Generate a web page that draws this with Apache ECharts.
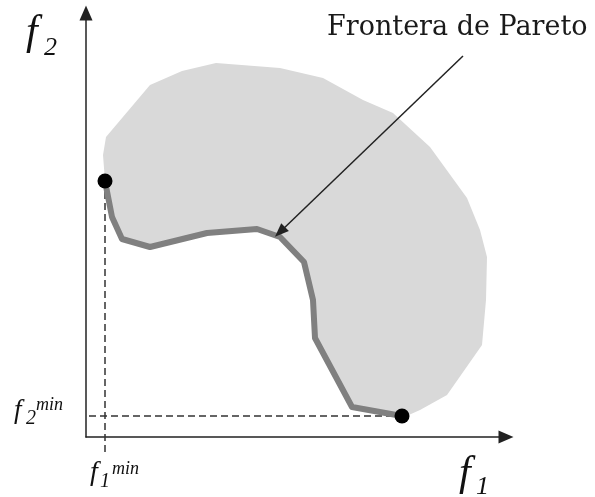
<!DOCTYPE html>
<html><head><meta charset="utf-8">
<script src="https://cdn.jsdelivr.net/npm/echarts@6/dist/echarts.min.js"></script>
<style>html,body{margin:0;padding:0;background:#fff}#c{width:595px;height:497px}</style>
</head><body><div id="c"></div>
<script>
// Pareto front (f1, f2) values, in plot units
const paretoF1 = [19, 26, 36, 64, 121, 171, 194, 218, 227, 229, 266, 316];
const paretoF2 = [256, 220, 198, 190, 204, 208, 200, 175, 137, 99, 30, 21];
// Outer boundary of the feasible region (from upper extreme around to lower extreme)
const regionF1 = [19, 17, 20, 64, 96, 130, 194, 237, 277, 307, 344, 381, 394, 401, 400, 396, 361, 334, 316];
const regionF2 = [256, 282, 300, 352, 366, 374, 369, 359, 337, 324, 290, 239, 207, 180, 137, 92, 42, 27, 19];
// Extreme points
const extremeF1 = [19, 316];
const extremeF2 = [256, 21];
// Reference lines f1min / f2min
const f1min = 19, f2min = 21;
const dashEndsF1 = [-8, 316];   // horizontal dashed from .. to
const dashEndsF2 = [256, -16];  // vertical dashed from .. to
// Annotation arrow (start, end)
const noteStart = [377, 381];
const noteEnd = [194, 205];
const noteText = 'Frontera de Pareto';

const pareto = paretoF1.map((x, i) => [x, paretoF2[i]]);
const outer = regionF1.map((x, i) => [x, regionF2[i]]);
const polygon = outer.concat(pareto.slice().reverse());

const chart = echarts.init(document.getElementById('c'), null, {renderer: 'canvas'});
const axisCommon = {
  type: 'value',
  axisLine: {show: true, onZero: false, symbol: ['none', 'triangle'], symbolSize: [13, 15],
    lineStyle: {color: '#222', width: 1.5}},
  axisTick: {show: false}, axisLabel: {show: false}, splitLine: {show: false}
};
const serifI = '"Liberation Serif", serif';
function t(text, x, y, size) {
  return {type: 'text', x: x, y: y, z: 100,
    style: {text: text, font: 'italic ' + size + 'px ' + serifI, fill: '#111', verticalAlign: 'middle'}};
}
chart.setOption({
  animation: false,
  backgroundColor: '#fff',
  grid: {left: 86, right: 89, top: 13, bottom: 60},
  xAxis: Object.assign({min: 0, max: 420}, axisCommon),
  yAxis: Object.assign({min: 0, max: 424}, axisCommon),
  graphic: [
    {type: 'text', x: 327, y: 28, z: 100,
      style: {text: noteText, font: '27px "DejaVu Serif", serif', fill: '#1a1a1a', verticalAlign: 'middle'}},
    t('f', 26, 33, 42), t('2', 44, 48, 26),
    t('f', 459, 474, 42), t('1', 476, 487, 26),
    t('f', 14, 411, 27), t('2', 26, 419, 20), t('min', 36, 405, 18),
    t('f', 90, 473, 28), t('1', 100, 482, 20), t('min', 112, 469, 18)
  ],
  series: [
    {
      type: 'custom', z: 1, clip: false,
      data: [0],
      renderItem: function (params, api) {
        return {type: 'polygon', shape: {points: polygon.map(p => api.coord(p))},
          style: {fill: '#d9d9d9', stroke: 'none'}};
      }
    },
    {
      type: 'line', z: 3, clip: false, data: [[f1min, dashEndsF2[0]], [f1min, dashEndsF2[1]]],
      showSymbol: false, lineStyle: {color: '#333', width: 1.5, type: [7, 4]}
    },
    {
      type: 'line', z: 3, clip: false, data: [[dashEndsF1[0], f2min], [dashEndsF1[1], f2min]],
      showSymbol: false, lineStyle: {color: '#333', width: 1.5, type: [7, 4]}
    },
    {
      type: 'line', z: 4, clip: false, data: pareto, showSymbol: false,
      lineStyle: {color: '#808080', width: 6, join: 'round'},
      markLine: {
        silent: true, animation: false,
        symbol: ['none', 'triangle'], symbolSize: [11, 14],
        label: {show: false},
        lineStyle: {color: '#222', width: 1.5, type: 'solid'},
        data: [[{coord: noteStart}, {coord: noteEnd}]]
      }
    },
    {
      type: 'scatter', z: 5, clip: false, data: extremeF1.map((x, i) => [x, extremeF2[i]]),
      symbol: 'circle', symbolSize: 15, itemStyle: {color: '#000', opacity: 1}
    }
  ]
});
</script>
</body></html>
